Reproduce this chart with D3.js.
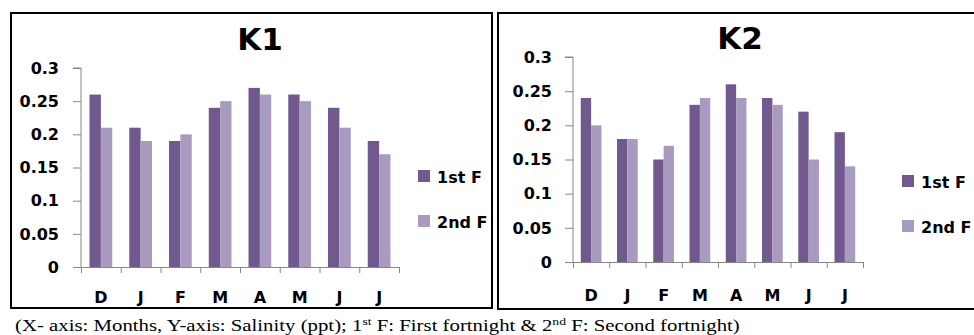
<!DOCTYPE html>
<html><head><meta charset="utf-8">
<script src="https://cdn.jsdelivr.net/npm/d3@7"></script>
<style>
html,body{margin:0;padding:0;background:#fff;}
svg{display:block;}
</style></head>
<body>
<svg id="chart" width="974" height="335"></svg>
<script>
// ---- data ----
const months = ["D","J","F","M","A","M","J","J"];
const seriesNames = ["1st F","2nd F"];
const k1First  = [0.26,0.21,0.19,0.24,0.27,0.26,0.24,0.19];
const k1Second = [0.21,0.19,0.20,0.25,0.26,0.25,0.21,0.17];
const k2First  = [0.24,0.18,0.15,0.23,0.26,0.24,0.22,0.19];
const k2Second = [0.20,0.18,0.17,0.24,0.24,0.23,0.15,0.14];
const yTicks = [0,0.05,0.1,0.15,0.2,0.25,0.3];
const yTickLabels = ["0","0.05","0.1","0.15","0.2","0.25","0.3"];
const titles = ["K1","K2"];

const colors = ["#71588f","#a99bc0"];
const axisColor = "#868686";
const font = "'DejaVu Sans', sans-serif";

const svg = d3.select("#chart");

// panel frames
svg.append("rect").attr("x",11).attr("y",13).attr("width",481).attr("height",295)
  .attr("fill","none").attr("stroke","#000").attr("stroke-width",2);
svg.append("rect").attr("x",498).attr("y",13).attr("width",500).attr("height",296)
  .attr("fill","none").attr("stroke","#000").attr("stroke-width",2);

const panels = [
  {title:titles[0], s1:k1First, s2:k1Second, x0:81, x1:399, y0:267, y1:68, titleX:260, titleY:50,
   labelRight:59, legX:418, legY:[170,215], tickLabelY:303},
  {title:titles[1], s1:k2First, s2:k2Second, x0:573, x1:863, y0:262, y1:57, titleX:740, titleY:49,
   labelRight:552, legX:902, legY:[175,220], tickLabelY:301}
];

panels.forEach(p => {
  const g = svg.append("g");
  const y = d3.scaleLinear().domain([0,0.3]).range([p.y0,p.y1]);
  const x0 = d3.scaleBand().domain(d3.range(months.length)).range([p.x0,p.x1]).padding(0);
  const x1 = d3.scaleBand().domain([0,1]).range([0,x0.bandwidth()]).paddingInner(0).paddingOuter(0.75);

  // bars
  [p.s1,p.s2].forEach((vals,si) => {
    g.selectAll(null).data(vals).enter().append("rect")
      .attr("x",(d,i)=>x0(i)+x1(si))
      .attr("y",d=>y(d))
      .attr("width",x1.bandwidth())
      .attr("height",d=>y(0)-y(d))
      .attr("fill",colors[si]);
  });

  // y axis
  const yAxis = d3.axisLeft(y).tickValues(yTicks).tickSize(8).tickFormat("");
  const ya = g.append("g").attr("transform",`translate(${p.x0},0)`).call(yAxis);
  ya.selectAll("path,line").attr("stroke",axisColor).attr("stroke-width",1);
  ya.select("path").attr("d",`M-8,${y(0.3)}H0V${y(0)}`);
  g.selectAll(null).data(yTicks).enter().append("text")
    .attr("x",p.labelRight).attr("y",d=>y(d)).attr("dy","0.36em")
    .attr("text-anchor","end").attr("font-family",font).attr("font-weight","bold")
    .attr("font-size",16).attr("fill","#000")
    .text((d,i)=>yTickLabels[i]);

  // x axis
  const xs = d3.scaleLinear().domain([0,months.length]).range([p.x0,p.x1]);
  const xAxis = d3.axisBottom(xs).tickValues(d3.range(months.length+1)).tickSize(6).tickFormat("").tickSizeOuter(0);
  const xa = g.append("g").attr("transform",`translate(0,${p.y0})`).call(xAxis);
  xa.selectAll("path,line").attr("stroke",axisColor).attr("stroke-width",1);
  g.selectAll(null).data(months).enter().append("text")
    .attr("x",(d,i)=>x0(i)+x0.bandwidth()/2).attr("y",p.tickLabelY)
    .attr("text-anchor","middle").attr("font-family",font).attr("font-weight","bold")
    .attr("font-size",16).attr("fill","#000").text(d=>d);

  // title
  g.append("text").attr("x",p.titleX).attr("y",p.titleY).attr("text-anchor","middle")
    .attr("font-family",font).attr("font-weight","bold").attr("font-size",31).text(p.title);

  // legend
  seriesNames.forEach((nm,i)=>{
    g.append("rect").attr("x",p.legX).attr("y",p.legY[i]).attr("width",12).attr("height",12).attr("fill",colors[i]);
    g.append("text").attr("x",p.legX+19).attr("y",p.legY[i]+12.5)
      .attr("font-family",font).attr("font-weight","bold").attr("font-size",16).text(nm);
  });
});

// caption
const cap = svg.append("text").attr("transform","translate(15,331) scale(1.3,1)")
  .attr("font-family","'Liberation Serif','Times New Roman',serif").attr("font-size",16).attr("fill","#000");
cap.append("tspan").text("(X- axis: Months, Y-axis: Salinity (ppt); 1");
cap.append("tspan").attr("font-size",10.5).attr("dy",-6).text("st");
cap.append("tspan").attr("dy",6).text(" F: First fortnight & 2");
cap.append("tspan").attr("font-size",10.5).attr("dy",-6).text("nd");
cap.append("tspan").attr("dy",6).text(" F: Second fortnight)");
</script>
</body></html>
